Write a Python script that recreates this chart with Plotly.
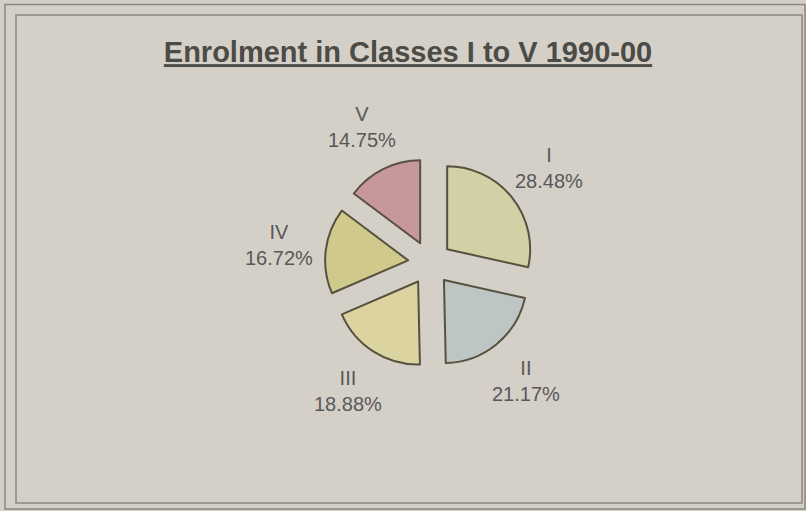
import math
import plotly.graph_objects as go

# Enrolment share by class, 1990-00
classes = ["I", "II", "III", "IV", "V"]
shares = [28.48, 21.17, 18.88, 16.72, 14.75]
slice_colors = ["#d2d0a4", "#bdc6c4", "#dcd4a0", "#cfca8c", "#c8979b"]

W, H = 806, 511
CX, CY = 430, 263          # pie centre in pixels
RADIUS = 83                # slice radius in pixels
PULL = 0.265               # explode fraction of the radius
LABEL_R = 152              # distance of label blocks from the centre

half = RADIUS * (1 + PULL)

fig = go.Figure(
    go.Pie(
        labels=classes,
        values=shares,
        sort=False,
        direction="clockwise",
        rotation=0,
        pull=[PULL] * len(shares),
        marker=dict(colors=slice_colors, line=dict(color="#57513f", width=2)),
        textinfo="none",
        hoverinfo="skip",
        showlegend=False,
        domain=dict(
            x=[(CX - half) / W, (CX + half) / W],
            y=[1 - (CY + half) / H, 1 - (CY - half) / H],
        ),
    )
)

# Category labels placed outside each slice along its mid-angle
total = sum(shares)
cum = 0.0
annotations = []
for name, val in zip(classes, shares):
    mid = (cum + val / 2) / total * 2 * math.pi
    cum += val
    px = CX + LABEL_R * math.sin(mid)
    py = CY - LABEL_R * math.cos(mid)
    annotations.append(
        dict(
            x=px / W, y=1 - py / H, xref="paper", yref="paper",
            text=f"{name}<br>{val:.2f}%", showarrow=False,
            xanchor="center", yanchor="middle", align="center",
            font=dict(family="Liberation Sans, Arial, sans-serif", size=20, color="#58585a"),
        )
    )

frame = "#8a8780"
shapes = [
    dict(type="rect", xref="paper", yref="paper",
         x0=5 / W, x1=805 / W, y0=1 - 509 / H, y1=1 - 4.5 / H,
         line=dict(color=frame, width=1.5)),
    dict(type="rect", xref="paper", yref="paper",
         x0=16 / W, x1=802 / W, y0=1 - 503 / H, y1=1 - 15 / H,
         line=dict(color=frame, width=1.5)),
]

fig.update_layout(
    width=W, height=H,
    margin=dict(l=0, r=0, t=0, b=0),
    paper_bgcolor="#d5d0c7",
    plot_bgcolor="#d5d0c7",
    title=dict(
        text="<b><u>Enrolment in Classes I to V 1990-00</u></b>",
        x=408 / W, xanchor="center",
        y=1 - 52 / H, yanchor="middle",
        font=dict(family="Liberation Sans, Arial, sans-serif", size=29, color="#4b4b48"),
    ),
    annotations=annotations,
    shapes=shapes,
)

fig.write_html("out.html")
